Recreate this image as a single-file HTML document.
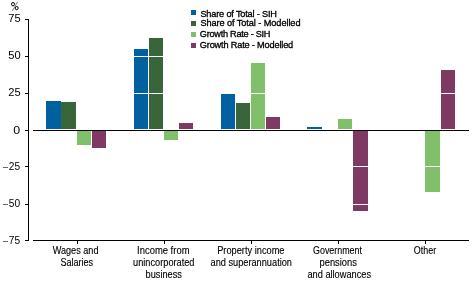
<!DOCTYPE html><html><head><meta charset="utf-8"><style>
html,body{margin:0;padding:0;background:#fff;width:472px;height:283px;overflow:hidden}
svg{position:absolute;left:0;top:0;will-change:transform}
text{font-family:"Liberation Sans",sans-serif;fill:#000;stroke:#000;stroke-width:0.12px}
text.n{stroke:none}
text.s{stroke-width:0.32px}
</style></head><body>
<svg width="472" height="283" viewBox="0 0 472 283">
<g shape-rendering="crispEdges">
<rect x="46" y="101" width="15" height="28" fill="#0060a0"/>
<rect x="61" y="102" width="15" height="27" fill="#38653a"/>
<rect x="77" y="131" width="14" height="14" fill="#80c06a"/>
<rect x="92" y="131" width="14" height="17" fill="#7f3a64"/>
<rect x="134" y="49" width="14" height="80" fill="#0060a0"/>
<rect x="149" y="38" width="14" height="91" fill="#38653a"/>
<rect x="164" y="131" width="14" height="9" fill="#80c06a"/>
<rect x="179" y="123" width="14" height="6" fill="#7f3a64"/>
<rect x="221" y="94" width="14" height="35" fill="#0060a0"/>
<rect x="236" y="103" width="14" height="26" fill="#38653a"/>
<rect x="251" y="63" width="14" height="66" fill="#80c06a"/>
<rect x="266" y="117" width="14" height="12" fill="#7f3a64"/>
<rect x="307" y="127" width="15" height="2" fill="#0060a0"/>
<rect x="338" y="119" width="14" height="10" fill="#80c06a"/>
<rect x="353" y="131" width="15" height="80" fill="#7f3a64"/>
<rect x="425" y="131" width="15" height="61" fill="#80c06a"/>
<rect x="441" y="70" width="14" height="59" fill="#7f3a64"/>
<rect x="33" y="19" width="436" height="1" fill="#fff"/>
<rect x="33" y="56" width="436" height="1" fill="#fff"/>
<rect x="33" y="93" width="436" height="1" fill="#fff"/>
<rect x="33" y="166" width="436" height="1" fill="#fff"/>
<rect x="33" y="204" width="436" height="1" fill="#fff"/>
<rect x="28" y="19" width="1" height="222" fill="#000"/>
<rect x="25" y="19" width="3" height="1" fill="#000"/>
<rect x="25" y="56" width="3" height="1" fill="#000"/>
<rect x="25" y="93" width="3" height="1" fill="#000"/>
<rect x="25" y="130" width="3" height="1" fill="#000"/>
<rect x="25" y="166" width="3" height="1" fill="#000"/>
<rect x="25" y="204" width="3" height="1" fill="#000"/>
<rect x="25" y="240" width="3" height="1" fill="#000"/>
<rect x="33" y="130" width="436" height="1" fill="#000"/>
<rect x="33" y="240" width="436" height="1" fill="#000"/>
<rect x="77" y="241" width="1" height="3" fill="#000"/>
<rect x="164" y="241" width="1" height="3" fill="#000"/>
<rect x="251" y="241" width="1" height="3" fill="#000"/>
<rect x="338" y="241" width="1" height="3" fill="#000"/>
<rect x="425" y="241" width="1" height="3" fill="#000"/>
<rect x="191" y="10" width="5" height="5" fill="#0060a0"/>
<rect x="191" y="21" width="5" height="5" fill="#38653a"/>
<rect x="191" y="32" width="5" height="5" fill="#80c06a"/>
<rect x="191" y="43" width="5" height="5" fill="#7f3a64"/>
<rect x="3" y="167" width="5" height="1" fill="#666"/>
<rect x="3" y="204" width="5" height="1" fill="#666"/>
<rect x="3" y="241" width="5" height="1" fill="#666"/>
</g>
<g fill="none" stroke="#000"><ellipse cx="13" cy="4.2" rx="1.5" ry="1.7" stroke-width="1"/><ellipse cx="16.7" cy="8.1" rx="1.5" ry="1.6" stroke-width="1"/><line x1="17.6" y1="2" x2="12.3" y2="11" stroke-width="0.7" stroke="#444"/></g>
<text class="n" x="8.30" y="22" font-size="11" textLength="12.40" lengthAdjust="spacingAndGlyphs">75</text>
<text class="n" x="8.30" y="59" font-size="11" textLength="12.40" lengthAdjust="spacingAndGlyphs">50</text>
<text class="n" x="8.30" y="96" font-size="11" textLength="12.40" lengthAdjust="spacingAndGlyphs">25</text>
<text class="n" x="13.30" y="134" font-size="11" textLength="6.90" lengthAdjust="spacingAndGlyphs">0</text>
<text class="n" x="8.80" y="170" font-size="11" textLength="11.30" lengthAdjust="spacingAndGlyphs">25</text>
<text class="n" x="8.80" y="207" font-size="11" textLength="11.30" lengthAdjust="spacingAndGlyphs">50</text>
<text class="n" x="8.80" y="244" font-size="11" textLength="11.30" lengthAdjust="spacingAndGlyphs">75</text>
<text class="s" x="200.40" y="16.6" font-size="9.2" textLength="76.60" lengthAdjust="spacing">Share of Total - SIH</text>
<text class="s" x="200.40" y="26.4" font-size="9.2" textLength="100.10" lengthAdjust="spacing">Share of Total - Modelled</text>
<text class="s" x="199.80" y="37.1" font-size="9.2" textLength="70.70" lengthAdjust="spacing">Growth Rate - SIH</text>
<text class="s" x="199.80" y="48.2" font-size="9.2" textLength="93.40" lengthAdjust="spacing">Growth Rate - Modelled</text>
<text x="52.70" y="254" font-size="10" textLength="45.80" lengthAdjust="spacingAndGlyphs">Wages and</text>
<text x="60.40" y="265.8" font-size="10" textLength="32.65" lengthAdjust="spacingAndGlyphs">Salaries</text>
<text x="137.05" y="254" font-size="10" textLength="52.45" lengthAdjust="spacingAndGlyphs">Income from</text>
<text x="133.05" y="265.8" font-size="10" textLength="61.45" lengthAdjust="spacingAndGlyphs">unincorporated</text>
<text x="145.60" y="277.6" font-size="10" textLength="36.35" lengthAdjust="spacingAndGlyphs">business</text>
<text x="217.20" y="254" font-size="10" textLength="67.30" lengthAdjust="spacingAndGlyphs">Property income</text>
<text x="210.50" y="265.8" font-size="10" textLength="81.50" lengthAdjust="spacingAndGlyphs">and superannuation</text>
<text x="313.00" y="254" font-size="10" textLength="49.00" lengthAdjust="spacingAndGlyphs">Government</text>
<text x="319.50" y="265.8" font-size="10" textLength="37.45" lengthAdjust="spacingAndGlyphs">pensions</text>
<text x="307.40" y="277.6" font-size="10" textLength="63.70" lengthAdjust="spacingAndGlyphs">and allowances</text>
<text x="413.85" y="254" font-size="10" textLength="22.30" lengthAdjust="spacingAndGlyphs">Other</text>
</svg></body></html>
